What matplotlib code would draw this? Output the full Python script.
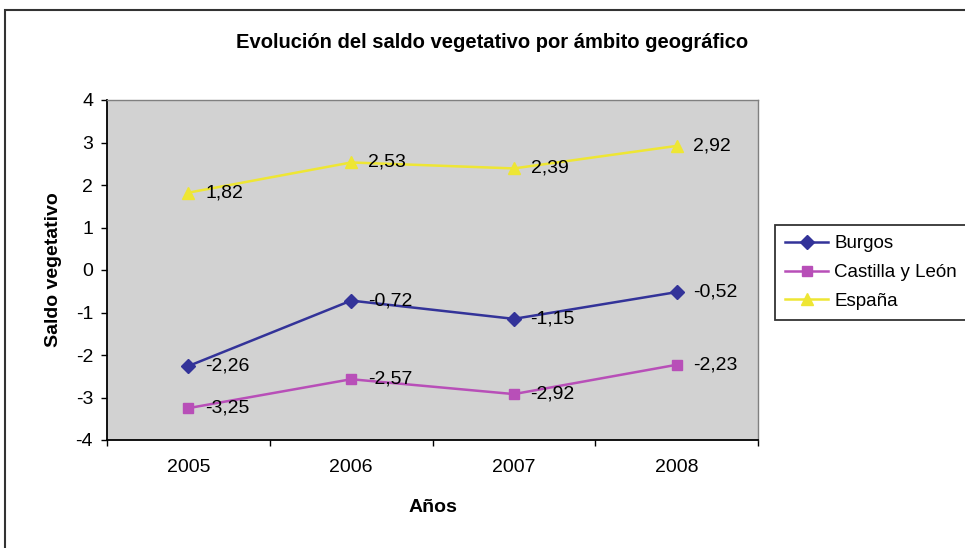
import matplotlib.pyplot as plt
from matplotlib.patches import Rectangle

plt.rcParams['font.family'] = ['Liberation Sans', 'DejaVu Sans']
plt.rcParams['axes.unicode_minus'] = False

# Data
years = ["2005", "2006", "2007", "2008"]
burgos = [-2.26, -0.72, -1.15, -0.52]
castilla = [-3.25, -2.57, -2.92, -2.23]
espana = [1.82, 2.53, 2.39, 2.92]

series = [
    ("Burgos", burgos, "#333399", "D", 7),
    ("Castilla y León", castilla, "#b84fb8", "s", 7),
    ("España", espana, "#eee634", "^", 8),
]

W, H = 965, 548
fig = plt.figure(figsize=(W / 100, H / 100), dpi=100)
fig.patch.set_facecolor("white")

# outer chart border (runs off the right and bottom edge)
fig.add_artist(Rectangle((5 / W, -0.1), 1.2, 1 - 10 / H + 0.1,
                         transform=fig.transFigure, fill=False,
                         edgecolor="#333333", linewidth=1.5, clip_on=False))

ax = fig.add_axes([107 / W, 1 - 440 / H, (758 - 107) / W, (440 - 100) / H])
ax.set_facecolor("#d2d2d2")

x = list(range(len(years)))
for name, vals, color, marker, ms in series:
    ax.plot(x, vals, color=color, marker=marker, markersize=ms,
            linewidth=1.8, label=name)
    for xi, v in zip(x, vals):
        lab = f"{v:.2f}".replace(".", ",")
        ax.annotate(lab, (xi, v), xytext=(12, 0), textcoords="offset points",
                    ha="left", va="center", fontsize=14, color="black")

ax.set_xlim(-0.5, len(years) - 0.5)
ax.set_ylim(-4, 4)
ax.set_yticks(range(-4, 5))
ax.tick_params(axis="y", labelsize=14, length=4, width=1, pad=6)

# category ticks between years, labels centred
ax.set_xticks([i - 0.5 for i in range(len(years) + 1)])
ax.set_xticklabels([])
ax.set_xticks(x, minor=True)
ax.set_xticklabels(years, minor=True)
ax.tick_params(axis="x", which="major", length=4, width=1)
ax.tick_params(axis="x", which="minor", length=0, labelsize=14, pad=14)

for s in ["left", "bottom"]:
    ax.spines[s].set_color("black")
    ax.spines[s].set_linewidth(1.3)
for s in ["top", "right"]:
    ax.spines[s].set_color("#808080")
    ax.spines[s].set_linewidth(1)

ax.set_xlabel("Años", fontsize=14, fontweight="bold", labelpad=16)
ax.set_ylabel("Saldo vegetativo", fontsize=14, fontweight="bold", labelpad=10)

fig.text(0.5 * (232 + 752) / W, 1 - 42 / H,
         "Evolución del saldo vegetativo por ámbito geográfico",
         ha="center", va="center", fontsize=14.5, fontweight="bold")

leg = fig.legend(loc="upper left", bbox_to_anchor=(775 / W, 1 - 225 / H),
                 fontsize=13.5, frameon=True, fancybox=False, edgecolor="black",
                 handlelength=2.3, borderpad=0.55, labelspacing=0.62,
                 handletextpad=0.3, borderaxespad=0)
leg.get_frame().set_linewidth(1.3)

fig.savefig("out.png", dpi=100)
